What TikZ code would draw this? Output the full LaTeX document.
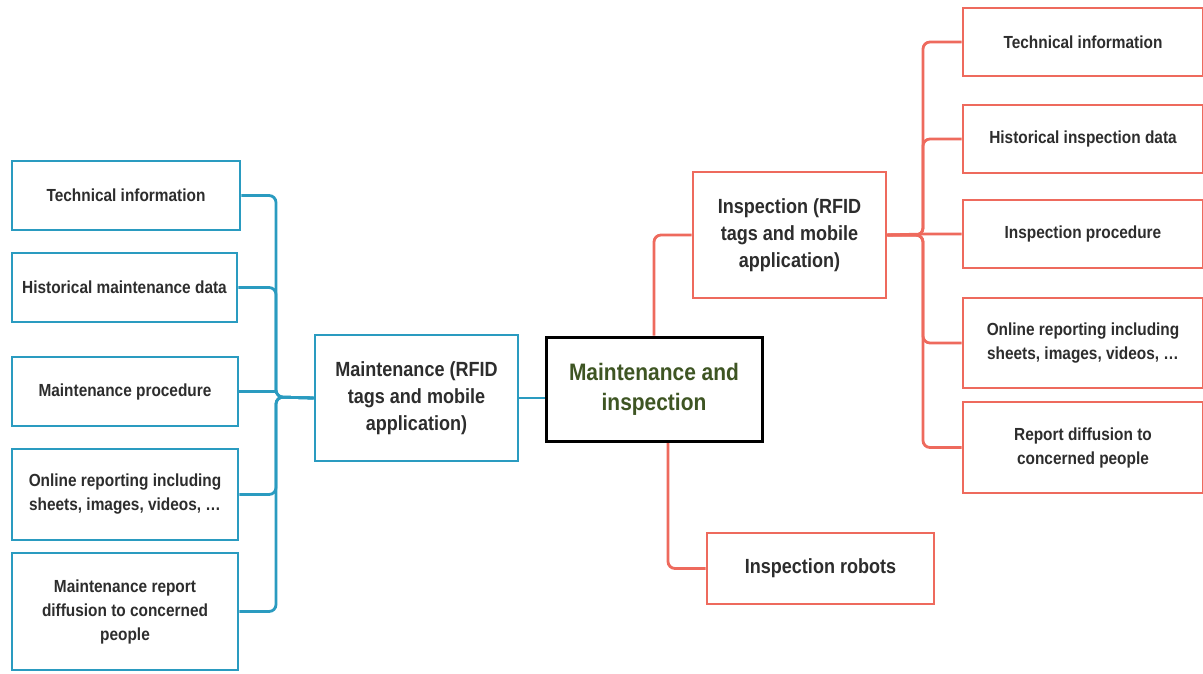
\documentclass[tikz,border=0pt]{standalone}
\usepackage{fontspec}
\setmainfont{Liberation Sans}[FakeStretch=0.88]
\usetikzlibrary{backgrounds}
\definecolor{bl}{RGB}{42,155,192}
\definecolor{rd}{RGB}{238,106,93}
\definecolor{tx}{RGB}{45,45,45}
\definecolor{gr}{RGB}{62,85,35}
\tikzset{
  box/.style={draw, line width=2.8pt, fill=white, align=center, text=tx, inner sep=2pt,
    font=\bfseries\fontsize{17.5}{24}\selectfont},
  bbox/.style={box, draw=bl},
  rbox/.style={box, draw=rd},
  bigtext/.style={font=\bfseries\fontsize{20.5}{27}\selectfont},
  blink/.style={draw=bl, line width=2.8pt, rounded corners=7pt},
  rlink/.style={draw=rd, line width=2.8pt, rounded corners=7pt},
}
\begin{document}
\begin{tikzpicture}[x=1pt,y=-1pt]
\useasboundingbox (0,0) rectangle (1203,673);
% left nodes
\node[bbox, minimum width=228, minimum height=69] (l1) at (126,195.5) {Technical information};
\node[bbox, minimum width=225, minimum height=69] (l2) at (124.5,287.5) {Historical maintenance data};
\node[bbox, minimum width=226, minimum height=69] (l3) at (125,391.5) {Maintenance procedure};
\node[bbox, minimum width=226, minimum height=91] (l4) at (125,494.5) {Online reporting including\\sheets, images, videos, \ldots};
\node[bbox, minimum width=226, minimum height=117] (l5) at (125,611.5) {Maintenance report\\diffusion to concerned\\people};
\node[bbox, bigtext, minimum width=203, minimum height=126] (maint) at (416.5,398) {Maintenance (RFID\\tags and mobile\\application)};
\coordinate (lj) at (276,397);
% right
\node[rbox, bigtext, minimum width=193, minimum height=126] (insp) at (789.5,235) {Inspection (RFID\\tags and mobile\\application)};
\node[rbox, bigtext, minimum width=227, minimum height=71] (robots) at (820.5,568.5) {Inspection robots};
\node[rbox, minimum width=240, minimum height=68] (r1) at (1083,42) {Technical information};
\node[rbox, minimum width=240, minimum height=68] (r2) at (1083,139) {Historical inspection data};
\node[rbox, minimum width=240, minimum height=68] (r3) at (1083,234) {Inspection procedure};
\node[rbox, minimum width=240, minimum height=90] (r4) at (1083,343) {Online reporting including\\sheets, images, videos, \ldots};
\node[rbox, minimum width=240, minimum height=91] (r5) at (1083,447.5) {Report diffusion to\\concerned people};
\coordinate (rj) at (923,235);
% center
\node[draw=black, line width=3pt, fill=white, minimum width=216, minimum height=104, align=center,
  text=gr, font=\bfseries\fontsize{23.8}{30}\selectfont] (center) at (654,389) {Maintenance and\\inspection};
% connectors (behind nodes)
\begin{scope}[on background layer]
  \draw[blink] (l1.east) -| (lj) -- (maint.west);
  \draw[blink] (l2.east) -| (lj) -- (maint.west);
  \draw[blink] (l3.east) -- (l3.east -| lj);
  \draw[blink] (l4.east) -| (lj) -- (maint.west);
  \draw[blink] (l5.east) -| (lj) -- (maint.west);
  \draw[blink] (maint.east) -- (maint.east -| center.west);
  \draw[rlink] (center.north) |- (insp.west);
  \draw[rlink] ([xshift=14pt]center.south) |- (robots.west);
  \draw[rlink] (insp.east) -- (rj) |- (r1.west);
  \draw[rlink] (insp.east) -- (rj) |- (r2.west);
  \draw[rlink] (insp.east) -- (r3.west -| rj) -- (r3.west);
  \draw[rlink] (insp.east) -- (rj) |- (r4.west);
  \draw[rlink] (insp.east) -- (rj) |- (r5.west);
\end{scope}
\end{tikzpicture}
\end{document}
